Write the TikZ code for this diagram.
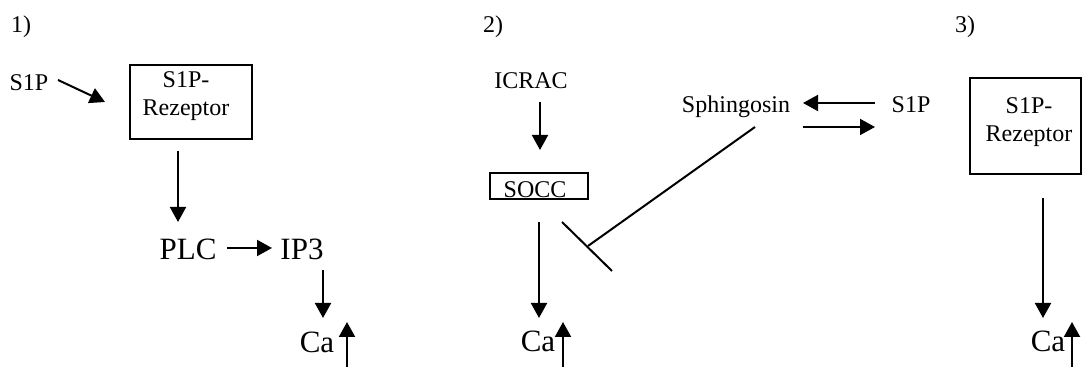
\documentclass[tikz,border=0pt]{standalone}
\usepackage{fontspec}
\setmainfont{Liberation Serif}
\usetikzlibrary{arrows.meta,positioning,calc}
\tikzset{
  lbl/.style={inner sep=0pt, font=\fontsize{12}{11.5}\selectfont, text height=8.2pt, text depth=0pt},
  big/.style={inner sep=0pt, font=\fontsize{15.5}{16}\selectfont, text height=10.5pt, text depth=0pt},
  boxtxt/.style={inner sep=0pt, align=center, font=\fontsize{12}{12.5}\selectfont},
  pbox/.style={draw, line width=1pt, inner sep=0pt},
  arrow/.style={-{Triangle[length=7.5pt,width=8pt]}, line width=1pt},
  inhibit/.style={line width=1pt}
}

\begin{document}
\begin{tikzpicture}[x=0.5pt,y=-0.5pt]
  \useasboundingbox (0,0) rectangle (1082,367);
  \clip (0,0) rectangle (1082,367);

  % panel 1
  \node[lbl] (num1) at (21,24) {1)};
  \node[lbl] (s1pA) at (29,82) {S1P};
  \node[pbox, minimum width=61pt, minimum height=37pt] (rezA) at (191,102) {};
  \node[boxtxt] (rezAlbl) at (186,96) {S1P-\\[1.2pt]Rezeptor};
  \node[big] (plcA) at (188,249) {PLC};
  \node[big] (ip3A) at (302,249) {IP3};
  \node[big] (caA) at (317,342) {Ca};
  \coordinate (caAin) at (347,372);

  \draw[arrow] ($(s1pA.center)+(29,-2)$) -- ($(rezA.center)+(-86,0)$);
  \draw[arrow] ($(rezA.center)+(-13,49)$) -- ($(plcA.center)+(-10,-27)$);
  \draw[arrow] ($(plcA.center)+(39,-1)$) -- ($(ip3A.center)+(-30,-1)$);
  \draw[arrow] ($(ip3A.center)+(21,21)$) -- ($(caA.center)+(6,-24)$);
  \draw[arrow] (caAin) -- ($(caA.center)+(30,-20)$);

  % panel 2
  \node[lbl] (num2) at (493,24) {2)};
  \node[lbl] (icrac) at (531,80) {ICRAC};
  \node[pbox, minimum width=49pt, minimum height=13pt] (soccB) at (539,186) {};
  \node[lbl] (soccBlbl) at (535,189) {SOCC};
  \node[big] (caB) at (538,341) {Ca};
  \coordinate (caBin) at (563,372);
  \node[lbl] (sphing) at (736,104) {Sphingosin};
  \node[lbl] (s1pB) at (911,104) {S1P};
  \coordinate (inhB) at (588,246);

  \draw[arrow] ($(icrac.center)+(9,22)$) -- ($(soccB.center)+(1,-36)$);
  \draw[arrow] ($(soccB.center)+(0,36)$) -- ($(caB.center)+(1,-23)$);
  \draw[arrow] (caBin) -- ($(caB.center)+(25,-19)$);
  \draw[arrow] ($(s1pB.center)+(-36,-1)$) -- ($(sphing.center)+(67,-1)$);
  \draw[arrow] ($(sphing.center)+(67,23)$) -- ($(s1pB.center)+(-36,23)$);
  \draw[inhibit] ($(sphing.center)+(19,23)$) -- (inhB);
  \draw[inhibit] ($(inhB)+(-26,-24)$) -- ($(inhB)+(24,25)$);

  % panel 3
  \node[lbl] (num3) at (965,24) {3)};
  \node[pbox, minimum width=55.5pt, minimum height=48pt] (rezC) at (1025.5,126) {};
  \node[boxtxt] (rezClbl) at (1029,122) {S1P-\\[1.2pt]Rezeptor};
  \node[big] (caC) at (1048,341) {Ca};
  \coordinate (caCin) at (1072,372);

  \draw[arrow] ($(rezC.center)+(17.5,72)$) -- ($(caC.center)+(-5,-23)$);
  \draw[arrow] (caCin) -- ($(caC.center)+(24,-19)$);
\end{tikzpicture}
\end{document}
